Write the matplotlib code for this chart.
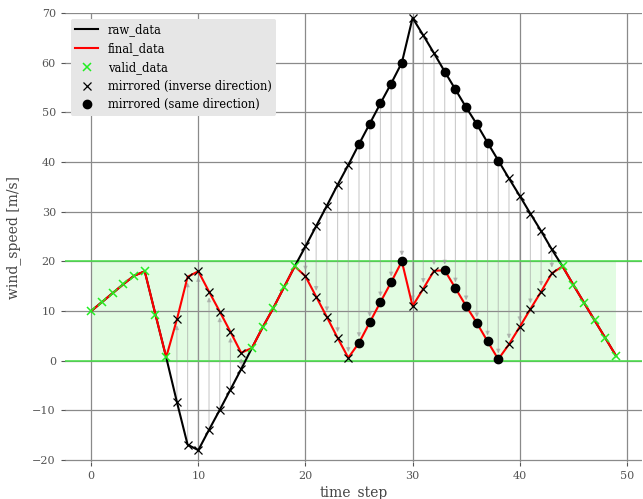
import numpy as np
import matplotlib.pyplot as plt

plt.rcParams['font.family'] = ['DejaVu Serif']

# values
time_step = np.arange(50)
raw_data = [10.0, 11.8, 13.6, 15.4, 17.1, 18.0, 9.3, 0.7, -8.3, -16.9,
            -18.0, -13.9, -9.9, -5.8, -1.7, 2.55, 6.7, 10.6, 14.8, 19.0,
            23.0, 27.1, 31.2, 35.4, 39.4, 43.6, 47.7, 51.8, 55.8, 60.0,
            69.0, 65.5, 61.9, 58.2, 54.6, 51.0, 47.6, 43.9, 40.3, 36.7,
            33.2, 29.6, 26.1, 22.4, 19.0, 15.3, 11.7, 8.1, 4.55, 0.95]
final_data = [10.0, 11.8, 13.6, 15.4, 17.1, 18.0, 9.3, 0.7, 8.3, 16.9,
              18.0, 13.9, 9.9, 5.8, 1.6, 2.55, 6.7, 10.6, 14.8, 19.0,
              17.0, 12.9, 8.8, 4.6, 0.6, 3.6, 7.7, 11.8, 15.8, 20.0,
              11.0, 14.5, 18.1, 18.2, 14.6, 11.0, 7.6, 3.9, 0.3, 3.3,
              6.8, 10.4, 13.9, 17.6, 19.0, 15.3, 11.7, 8.1, 4.55, 0.95]
valid_idx = [0, 1, 2, 3, 4, 5, 6, 7, 15, 16, 17, 18, 19, 44, 45, 46, 47, 48, 49]
inverse_idx = [8, 9, 10, 11, 12, 13, 14, 20, 21, 22, 23, 24, 30, 31, 32,
               39, 40, 41, 42, 43]
same_idx = [25, 26, 27, 28, 29, 33, 34, 35, 36, 37, 38]
v_min, v_max = 0, 20

raw = np.array(raw_data)
final = np.array(final_data)

fig, ax = plt.subplots(figsize=(6.43, 4.99), dpi=100)
fig.subplots_adjust(left=0.101, right=0.999, top=0.974, bottom=0.074)

# valid band
ax.fill_between(time_step, v_min, v_max, color='#33ee33', alpha=0.14, lw=0, zorder=0)
ax.axhline(v_min, color='#44e044', lw=1.1, zorder=1)
ax.axhline(v_max, color='#44e044', lw=1.1, zorder=1)

# arrows raw -> final for the mirrored points
for i in inverse_idx + same_idx:
    ax.annotate('', xy=(time_step[i], final[i]), xytext=(time_step[i], raw[i]),
                arrowprops=dict(arrowstyle='-|>', color='#999999', alpha=0.5,
                                lw=0.8, shrinkA=0, shrinkB=4, mutation_scale=6),
                zorder=1.5)

ax.plot(time_step, raw, color='black', lw=1.5, label='raw_data', zorder=2)
ax.plot(time_step, final, color='red', lw=1.5, label='final_data', zorder=3)

ax.plot(time_step[valid_idx], final[valid_idx], 'x', color='#22ee22', ms=5.5,
        mew=1.1, label='valid_data', zorder=4)
ax.plot(time_step[inverse_idx], final[inverse_idx], 'x', color='black', ms=5.5,
        mew=0.9, label='mirrored (inverse direction)', zorder=4)
ax.plot(time_step[inverse_idx], raw[inverse_idx], 'x', color='black', ms=5.5,
        mew=0.9, zorder=4)
ax.plot(time_step[same_idx], final[same_idx], 'o', color='black', ms=6,
        label='mirrored (same direction)', zorder=4)
ax.plot(time_step[same_idx], raw[same_idx], 'o', color='black', ms=6, zorder=4)

ax.set_ylim(-20.4, 70)
ax.set_yticks(np.arange(-20, 71, 10))
ax.set_xlabel('time_step', fontsize=10, color='#444444', labelpad=3)
ax.set_ylabel('wind_speed [m/s]', fontsize=10, color='#444444', labelpad=8)
ax.grid(True, color='#8a8a8a', lw=0.9)
ax.set_axisbelow(True)
for s in ax.spines.values():
    s.set_visible(False)
ax.tick_params(colors='#555555', labelsize=8, length=3, width=0.8)

leg = ax.legend(loc='upper left', fontsize=8.3, frameon=True, fancybox=True,
                facecolor='#e6e6e6', edgecolor='none', framealpha=1)

fig.savefig('out.png')
